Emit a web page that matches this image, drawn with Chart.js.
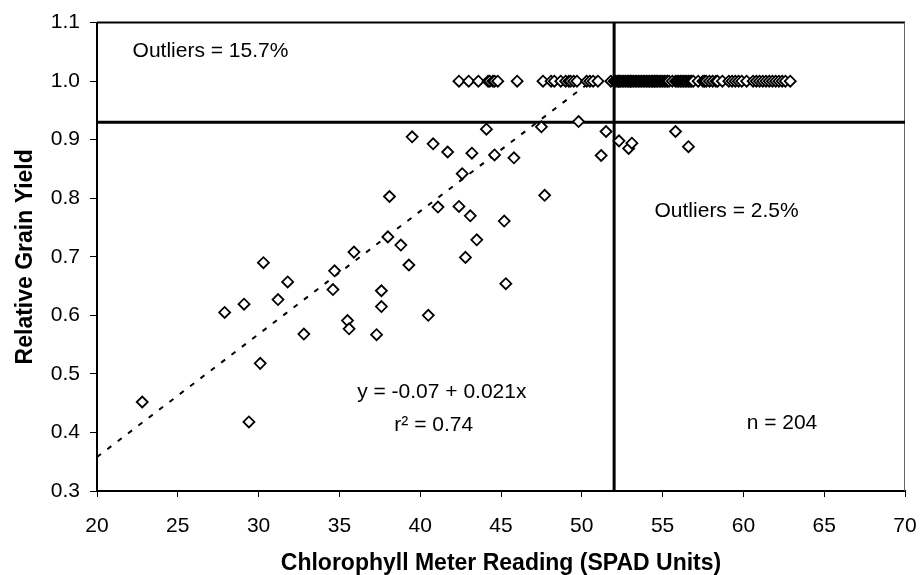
<!DOCTYPE html>
<html>
<head>
<meta charset="utf-8">
<script src="https://cdn.jsdelivr.net/npm/chart.js@4.4.1/dist/chart.umd.min.js"></script>
<style>
  html, body { margin: 0; padding: 0; background: #fff; }
  #wrap { width: 921px; height: 575px; }
</style>
</head>
<body>
<div id="wrap"><canvas id="c" width="921" height="575"></canvas></div>
<script>
// points below the plateau (SPAD reading, relative yield)
const lowX = [22.8, 29.4, 27.9, 29.1, 30.3, 30.1, 31.2, 31.8, 32.8, 34.6, 34.7, 35.5, 35.6, 35.9,
  37.3, 37.6, 37.6, 38.0, 38.8, 39.3, 40.5, 42.8, 43.5, 45.3, 45.2, 38.1, 41.1, 42.4, 43.1,
  47.7, 39.5, 40.8, 41.7, 44.1, 43.2, 44.6, 45.8, 42.6, 47.5, 49.8, 51.5, 51.2,
  52.3, 53.1, 52.9, 55.8, 56.6];
const lowY = [0.452, 0.418, 0.605, 0.619, 0.690, 0.518, 0.627, 0.657, 0.568, 0.644, 0.676, 0.591, 0.577, 0.708,
  0.567, 0.642, 0.615, 0.734, 0.720, 0.686, 0.600, 0.699, 0.729, 0.654, 0.761, 0.803, 0.785, 0.786, 0.770,
  0.805, 0.905, 0.893, 0.879, 0.918, 0.877, 0.874, 0.869, 0.842, 0.922, 0.931, 0.914, 0.873,
  0.898, 0.894, 0.885, 0.914, 0.888];

// points on the plateau, relative yield = 1.0
const plateauY = 1.0;
const plateauX = [42.4, 43.0, 43.6, 44.2, 44.3, 44.5, 44.6, 44.8, 46.0, 47.6, 48.1, 48.3, 48.7, 49.0,
  49.2, 49.3, 49.5, 49.7, 50.3, 50.5, 50.7, 51.0, 51.8,
  52.0, 52.1, 52.2, 52.3, 52.3, 52.4, 52.5, 52.6, 52.7, 52.8, 52.9, 53.0, 53.0, 53.1, 53.2, 53.3,
  53.4, 53.5, 53.6, 53.7, 53.8, 53.9, 54.0, 54.1, 54.2, 54.3, 54.4, 54.5, 54.5, 54.6, 54.7, 54.8,
  54.9, 55.0, 55.1, 55.2, 55.3, 55.4, 55.6, 55.8, 55.9, 56.0, 56.1, 56.2, 56.3, 56.4, 56.5, 56.6,
  56.7, 56.8, 56.9, 57.2, 57.5, 57.6, 57.7, 57.9, 58.1, 58.3, 58.4, 58.7, 59.1, 59.3, 59.5, 59.7,
  59.9, 60.2, 60.6, 60.8, 61.0, 61.2, 61.4, 61.6, 61.8, 62.0, 62.2, 62.4, 62.6, 62.9];

// fitted line end points
const fitX = [20, 51.3];
const fitY = [0.358, 1.015];

// critical levels
const critYield = 0.93;
const critSpad = 52;

const xTicks = [20, 25, 30, 35, 40, 45, 50, 55, 60, 65, 70];
const yTicks = [0.3, 0.4, 0.5, 0.6, 0.7, 0.8, 0.9, 1.0, 1.1];

const notes = [
  { text: 'Outliers = 15.7%', x: 22.2, y: 1.051, align: 'left' },
  { text: 'Outliers = 2.5%', x: 54.5, y: 0.778, align: 'left' },
  { text: 'y = -0.07 + 0.021x', x: 36.1, y: 0.468, align: 'left' },
  { text: 'r\u00B2 = 0.74', x: 38.4, y: 0.412, align: 'left' },
  { text: 'n = 204', x: 60.2, y: 0.415, align: 'left' }
];

const FONT = "'Liberation Sans', Arial, sans-serif";

const pts = [];
lowX.forEach((x, i) => pts.push({ x: x, y: lowY[i] }));
plateauX.forEach(x => pts.push({ x: x, y: plateauY }));
pts.sort((a, b) => a.x - b.x);

const frame = {
  id: 'frame',
  beforeDatasetsDraw(chart) {
    const { ctx, chartArea: a } = chart;
    ctx.save();
    ctx.strokeStyle = '#000';
    ctx.lineWidth = 2;
    ctx.beginPath();
    ctx.moveTo(a.left, a.top);
    ctx.lineTo(a.right, a.top);
    ctx.stroke();
    ctx.strokeStyle = '#666';
    ctx.lineWidth = 1;
    ctx.beginPath();
    ctx.moveTo(a.right - 0.5, a.top);
    ctx.lineTo(a.right - 0.5, a.bottom);
    ctx.stroke();
    ctx.restore();
  },
  afterDatasetsDraw(chart) {
    const { ctx, scales } = chart;
    ctx.save();
    ctx.fillStyle = '#000';
    ctx.font = '21px ' + FONT;
    ctx.textBaseline = 'middle';
    notes.forEach(n => {
      ctx.textAlign = n.align;
      ctx.fillText(n.text, scales.x.getPixelForValue(n.x), scales.y.getPixelForValue(n.y));
    });
    ctx.restore();
  }
};

new Chart(document.getElementById('c'), {
  type: 'scatter',
  data: {
    datasets: [
      {
        label: 'obs',
        data: pts,
        pointStyle: 'rectRot',
        pointRadius: 5.5,
        pointBorderWidth: 1.8,
        pointBorderColor: '#000',
        pointBackgroundColor: '#fff',
        order: 0
      },
      {
        label: 'fit',
        type: 'line',
        data: fitX.map((x, i) => ({ x: x, y: fitY[i] })),
        borderColor: '#000',
        borderWidth: 2,
        borderDash: [5, 8],
        pointRadius: 0,
        fill: false,
        order: 2
      },
      {
        label: 'critY',
        type: 'line',
        data: [{ x: 20, y: critYield }, { x: 70, y: critYield }],
        borderColor: '#000',
        borderWidth: 3,
        pointRadius: 0,
        order: 1
      },
      {
        label: 'critX',
        type: 'line',
        data: [{ x: critSpad, y: 0.3 }, { x: critSpad, y: 1.1 }],
        borderColor: '#000',
        borderWidth: 3,
        pointRadius: 0,
        order: 1
      }
    ]
  },
  options: {
    responsive: false,
    animation: false,
    events: [],
    layout: { padding: { left: 0, right: 16, top: 21, bottom: 0 } },
    plugins: { legend: { display: false }, tooltip: { enabled: false } },
    scales: {
      x: {
        type: 'linear',
        min: 20, max: 70,
        afterBuildTicks: s => { s.ticks = xTicks.map(v => ({ value: v })); },
        afterFit: s => { s.height = 84; s.paddingLeft = 0; s.paddingRight = 0; },
        grid: { drawOnChartArea: false, drawTicks: true, tickLength: 6, tickColor: '#000' },
        border: { color: '#000', width: 2 },
        ticks: { color: '#000', padding: 17, font: { family: FONT, size: 21 } },
        title: {
          display: true,
          text: 'Chlorophyll Meter Reading (SPAD Units)',
          color: '#000',
          padding: 0,
          font: { family: FONT, size: 23, weight: 'bold', lineHeight: 1 }
        }
      },
      y: {
        type: 'linear',
        min: 0.3, max: 1.1,
        afterBuildTicks: s => { s.ticks = yTicks.map(v => ({ value: v })); },
        afterFit: s => { s.width = 97; },
        grid: { drawOnChartArea: false, drawTicks: true, tickLength: 7, tickColor: '#000' },
        border: { color: '#000', width: 2 },
        ticks: {
          color: '#000', padding: 10,
          font: { family: FONT, size: 21 },
          callback: v => v.toFixed(1)
        },
        title: {
          display: true,
          text: 'Relative Grain Yield',
          color: '#000',
          padding: { top: 14, bottom: 0 },
          font: { family: FONT, size: 23, weight: 'bold', lineHeight: 1 }
        }
      }
    }
  },
  plugins: [frame]
});
</script>
</body>
</html>
